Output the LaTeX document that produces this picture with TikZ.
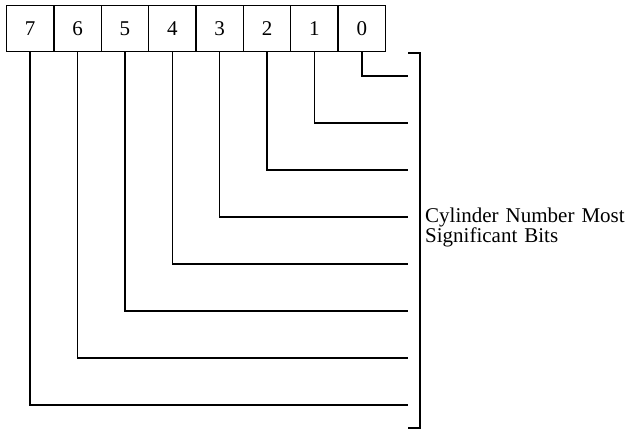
\documentclass[tikz,border=0pt]{standalone}
\usepackage{fontspec}
\setmainfont{Liberation Serif}
\begin{document}
\begin{tikzpicture}[x=1pt,y=-1pt,
  cell/.style={draw,line width=1.4pt,minimum width=47.375pt,minimum height=46pt,inner sep=0pt,outer sep=0pt,font=\fontsize{21}{21}\selectfont},
  wire/.style={line width=1.4pt},
  lab/.style={font=\fontsize{21}{20}\selectfont,text width=215pt,align=left,inner sep=0pt,anchor=base west}]
\useasboundingbox (0,0) rectangle (632,430);
\foreach \b [count=\i from 0] in {7,6,5,4,3,2,1,0} {
  \node[cell] (b\b) at ({6.5+47.375*(\i+0.5)},28.5) {\b};
}
\foreach \b in {0,...,7} {
  \coordinate (e\b) at (408,{76+47*\b});
  \draw[wire] (b\b.south) |- (e\b);
}
\coordinate (bt1) at (408,53);
\coordinate (bt2) at (420,53);
\coordinate (bb2) at (420,428);
\coordinate (bb1) at (408,428);
\draw[wire] (bt1) -- (bt2) -- (bb2) -- (bb1);
\node[lab] (txt) at (425,223) {Cylinder Number Most\\Significant Bits};
\end{tikzpicture}
\end{document}
